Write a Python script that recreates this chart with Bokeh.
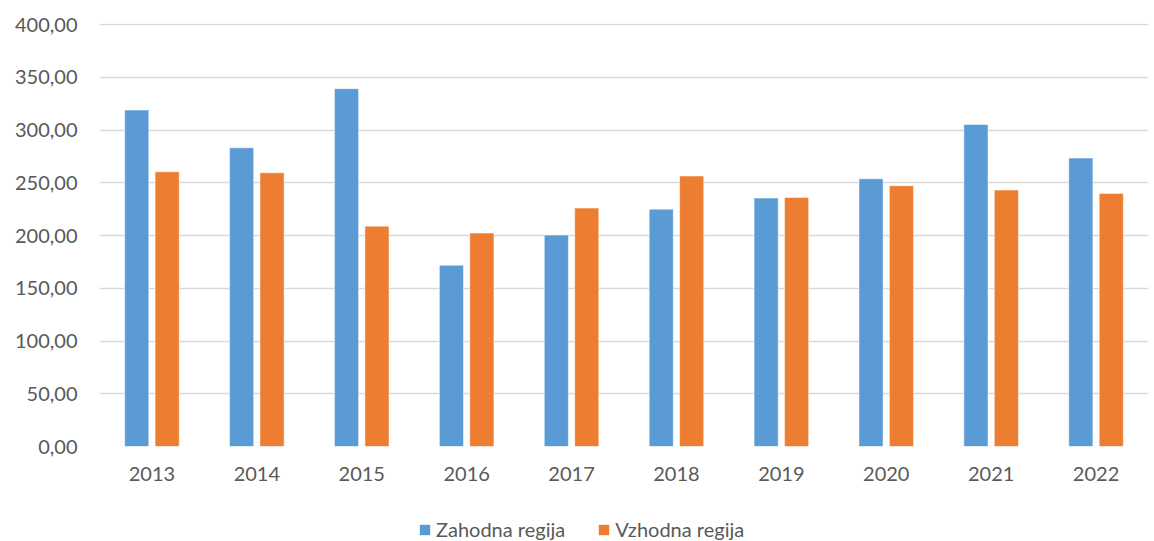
from bokeh.plotting import figure
from bokeh.models import ColumnDataSource, FactorRange, Legend, LegendItem, CustomJSTickFormatter, Range1d
from bokeh.transform import dodge
from bokeh.layouts import column
from bokeh.embed import file_html
from bokeh.resources import INLINE

years = ["2013", "2014", "2015", "2016", "2017", "2018", "2019", "2020", "2021", "2022"]
zahodna = [319.0, 283.2, 339.2, 171.9, 200.4, 225.0, 235.5, 253.8, 305.3, 273.4]
vzhodna = [260.4, 259.5, 208.9, 202.3, 226.0, 256.4, 236.1, 247.2, 243.1, 239.9]
series_names = ["Zahodna regija", "Vzhodna regija"]
colors = ["#5B9BD5", "#ED7D31"]

src = ColumnDataSource(dict(year=years, z=zahodna, v=vzhodna))

FONT = "Lato"
TXT = "#595959"

p = figure(x_range=FactorRange(*years), y_range=Range1d(0, 401),
           width=1154, height=495,
           min_border_left=99, min_border_right=6, min_border_top=23, min_border_bottom=49,
           output_backend="svg", toolbar_location=None, background_fill_color="white",
           border_fill_color="white", outline_line_color=None)

r1 = p.vbar(x=dodge("year", -0.145, range=p.x_range), top="z", width=0.23, source=src,
            fill_color=colors[0], line_color="white", line_width=0.5)
r2 = p.vbar(x=dodge("year", 0.145, range=p.x_range), top="v", width=0.23, source=src,
            fill_color=colors[1], line_color="white", line_width=0.5)

p.xgrid.grid_line_color = None
p.ygrid.grid_line_color = "#D9D9D9"
p.ygrid.grid_line_width = 1.5
p.yaxis.ticker = [0, 50, 100, 150, 200, 250, 300, 350, 400]
p.yaxis.formatter = CustomJSTickFormatter(code="return tick.toFixed(2).replace('.', ',');")

for ax in (p.xaxis[0], p.yaxis[0]):
    ax.axis_line_color = None
    ax.major_tick_line_color = None
    ax.minor_tick_line_color = None
    ax.major_tick_out = 0
    ax.major_tick_in = 0
    ax.major_label_text_font = FONT
    ax.major_label_text_font_size = "20px"
    ax.major_label_text_color = TXT
p.yaxis.major_label_standoff = 22
p.xaxis.major_label_standoff = 20

# Legend strip below the chart (its frame is aligned with the chart's frame by the column layout)
lp = figure(width=1154, height=46, x_range=FactorRange(*years), y_range=Range1d(-2, -1),
            x_axis_type=None, y_axis_type=None,
            min_border_left=99, min_border_right=6, min_border_top=0, min_border_bottom=0,
            output_backend="svg", toolbar_location=None, outline_line_color=None,
            background_fill_color="white", border_fill_color="white")
lp.xgrid.grid_line_color = None
lp.ygrid.grid_line_color = None
lr1 = lp.vbar(x="year", top="z", width=0, source=src, fill_color=colors[0], line_color=None)
lr2 = lp.vbar(x="year", top="v", width=0, source=src, fill_color=colors[1], line_color=None)

legend = Legend(items=[LegendItem(label=series_names[0], renderers=[lr1]),
                       LegendItem(label=series_names[1], renderers=[lr2])],
                orientation="horizontal", location=(319, 0),
                border_line_color=None, background_fill_alpha=0,
                label_text_font=FONT, label_text_font_size="20px", label_text_color=TXT,
                glyph_width=13, glyph_height=13, spacing=32, label_standoff=5,
                margin=0, padding=0)
lp.add_layout(legend, "center")

open("out.html", "w").write(file_html(column(p, lp, spacing=0), INLINE))
